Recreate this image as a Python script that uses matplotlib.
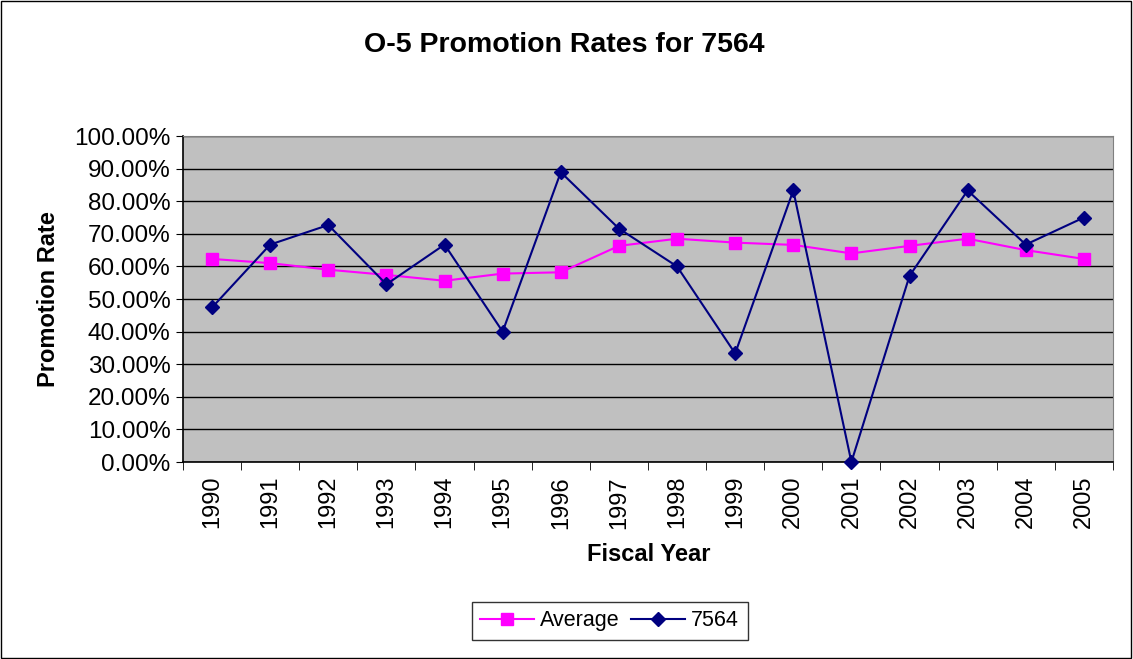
import matplotlib.pyplot as plt
from matplotlib.patches import Rectangle
from matplotlib.ticker import FuncFormatter, MultipleLocator

plt.rcParams['font.family'] = ['Liberation Sans', 'DejaVu Sans']

# Promotion rates by fiscal year (percent)
years = ['1990', '1991', '1992', '1993', '1994', '1995', '1996', '1997',
         '1998', '1999', '2000', '2001', '2002', '2003', '2004', '2005']
average = [62.3, 61.0, 59.0, 57.4, 55.6, 57.8, 58.2, 66.3,
           68.5, 67.3, 66.6, 64.0, 66.3, 68.5, 65.0, 62.3]
rate_7564 = [47.4, 66.7, 72.7, 54.5, 66.7, 40.0, 88.9, 71.6,
             60.0, 33.3, 83.3, 0.0, 57.1, 83.3, 66.7, 75.0]

fig = plt.figure(figsize=(11.33, 6.59), dpi=100)
# outer chart border
fig.patches.append(Rectangle((0.001, 0.002), 0.997, 0.996, transform=fig.transFigure,
                             fill=False, edgecolor='black', linewidth=1))
ax = fig.add_axes([0.1615, 0.2989, 0.8208, 0.4947])
ax.set_facecolor('#C0C0C0')

x = list(range(len(years)))
ax.plot(x, average, color='#FF00FF', marker='s', markersize=8, linewidth=1.5,
        label='Average', zorder=3)
ax.plot(x, rate_7564, color='#000080', marker='D', markersize=7, linewidth=1.5,
        label='7564', zorder=4, clip_on=False)

ax.set_ylim(0, 100)
ax.set_xlim(-0.5, len(years) - 0.5)
ax.yaxis.set_major_locator(MultipleLocator(10))
ax.yaxis.set_major_formatter(FuncFormatter(lambda v, p: '%.2f%%' % v))
ax.grid(axis='y', color='black', linewidth=1)
ax.set_axisbelow(True)

ax.set_xticks(x)
ax.set_xticklabels(years, rotation=90, fontsize=17)
ax.set_xticks([i - 0.5 for i in range(len(years) + 1)], minor=True)
ax.tick_params(axis='x', which='major', length=0, pad=10)
ax.tick_params(axis='x', which='minor', length=6, direction='out', color='black')
ax.tick_params(axis='y', labelsize=17.5, length=5, direction='out', color='black', pad=4)

for side in ['top', 'right']:
    ax.spines[side].set_color('#808080')
for side in ['left', 'bottom']:
    ax.spines[side].set_color('black')
    ax.spines[side].set_linewidth(1.2)

fig.text(0.498, 0.931, 'O-5 Promotion Rates for 7564', fontsize=20.5, fontweight='bold',
         ha='center', va='center')
fig.text(0.5728, 0.158, 'Fiscal Year', fontsize=17, fontweight='bold',
         ha='center', va='center')
fig.text(0.0424, 0.546, 'Promotion Rate', fontsize=17, fontweight='bold',
         ha='center', va='center', rotation=90)

leg = ax.legend(loc='center', bbox_to_anchor=(0.538, 0.0577), bbox_transform=fig.transFigure,
                ncol=2, fontsize=15.5, frameon=True, fancybox=False, edgecolor='black',
                handlelength=2.5, columnspacing=0.5, handletextpad=0.3, borderpad=0.4)
leg.get_frame().set_linewidth(1)

fig.savefig('out.png', dpi=100)
